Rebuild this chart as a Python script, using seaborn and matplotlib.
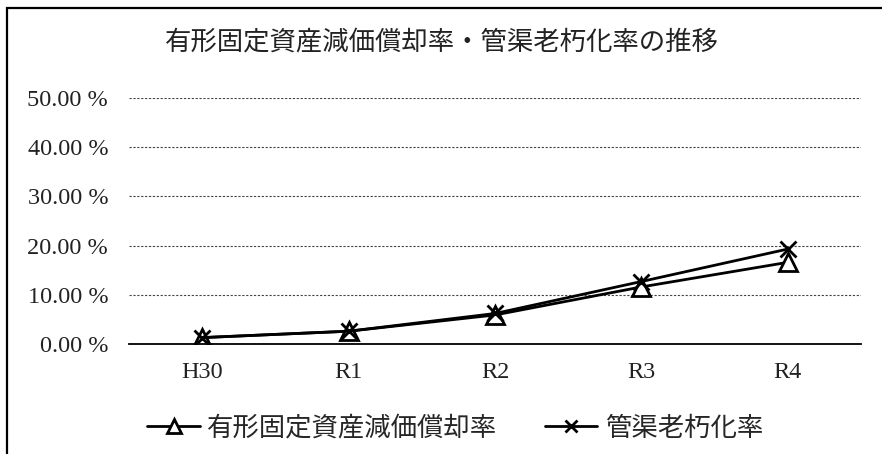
import pandas as pd
import seaborn as sns
import matplotlib.pyplot as plt
from matplotlib.patches import Rectangle

years = ["H30", "R1", "R2", "R3", "R4"]
depreciation_rate = [1.3, 2.6, 5.9, 11.6, 16.6]   # 有形固定資産減価償却率
pipe_aging_rate = [1.3, 2.6, 6.2, 12.7, 19.3]     # 管渠老朽化率
y_ticks = [0, 10, 20, 30, 40, 50]

title = "有形固定資産減価償却率・管渠老朽化率の推移"
label_dep = "有形固定資産減価償却率"
label_pipe = "管渠老朽化率"

df = pd.DataFrame({"year": years, "dep": depreciation_rate, "pipe": pipe_aging_rate})

sns.set_style("white")
plt.rcParams["font.family"] = ["Noto Sans CJK JP", "DejaVu Sans"]

fig = plt.figure(figsize=(8.82, 4.54), dpi=100)
ax = fig.add_axes([129 / 882, 1 - 344 / 454, 732 / 882, 246 / 454])

sns.lineplot(data=df, x="year", y="dep", ax=ax, color="black", lw=2.0,
             marker="^", markersize=13, markerfacecolor="white",
             markeredgecolor="black", markeredgewidth=2.0, label=label_dep)
sns.lineplot(data=df, x="year", y="pipe", ax=ax, color="black", lw=2.0,
             marker="x", markersize=12, markeredgecolor="black",
             markeredgewidth=2.0, label=label_pipe)

ax.set_xlim(-0.5, len(years) - 0.5)
ax.set_ylim(0, 50)
ax.set_yticks(y_ticks)
ax.set_yticklabels([f"{v:.2f} %" for v in y_ticks])
ax.set_xlabel("")
ax.set_ylabel("")
for lbl in ax.get_xticklabels() + ax.get_yticklabels():
    lbl.set_fontfamily("Liberation Serif")
    lbl.set_fontsize(17.5)
ax.tick_params(axis="both", length=0, colors="#222222")
ax.tick_params(axis="y", pad=15)
ax.tick_params(axis="x", pad=13)

ax.yaxis.grid(True, linestyle=(0, (2, 1.5)), color="#444444", lw=0.8)
ax.set_axisbelow(True)
for side in ["top", "right", "left"]:
    ax.spines[side].set_visible(False)
ax.spines["bottom"].set_color("black")
ax.spines["bottom"].set_linewidth(1.3)

ax.legend(loc="center", bbox_to_anchor=(455 / 882, 1 - 428 / 454),
          bbox_transform=fig.transFigure, ncol=2, frameon=False,
          fontsize=19, handlelength=2.0, handletextpad=0.27,
          columnspacing=1.8, markerscale=0.75)

fig.text(442 / 882, 1 - 42 / 454, title, ha="center", va="center",
         fontsize=19, color="#222222")

fig.patches.append(Rectangle((7 / 882, -0.1), 1.2, 1.1 - 8 / 454,
                             transform=fig.transFigure, fill=False,
                             lw=1.6, edgecolor="black"))

fig.savefig("out.png", dpi=100)
